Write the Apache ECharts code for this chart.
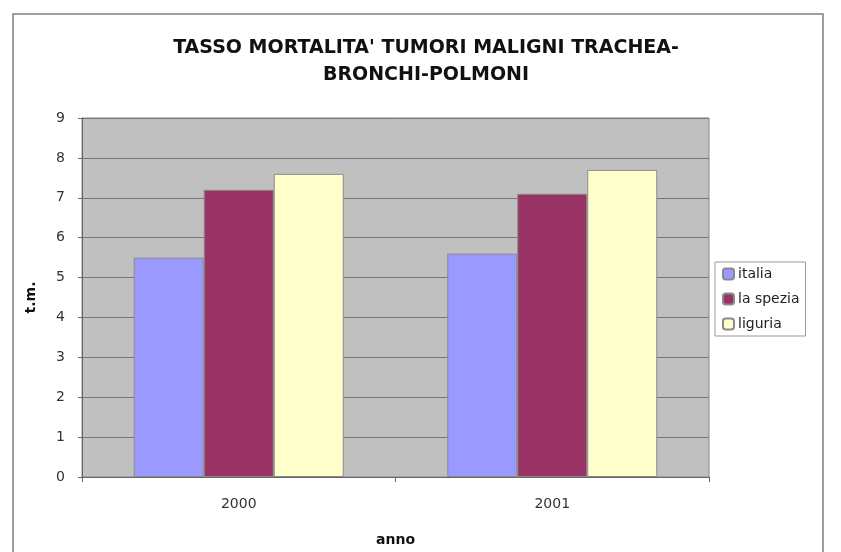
<!DOCTYPE html>
<html lang="it">
<head>
<meta charset="UTF-8">
<title>Tasso mortalità</title>
<style>
html, body { margin: 0; padding: 0; background: #fff; }
#main { width: 841px; height: 552px; }
</style>
</head>
<body>
<div id="main"></div>
<script src="https://cdn.jsdelivr.net/npm/echarts@6/dist/echarts.min.js"></script>
<script>
var anni = ['2000', '2001'];
var italia = [5.5, 5.6];
var laSpezia = [7.2, 7.1];
var liguria = [7.6, 7.7];
var yTicks = [0, 1, 2, 3, 4, 5, 6, 7, 8, 9];

var chart = echarts.init(document.getElementById('main'));

var barStyle = function (color) {
    return { color: color, borderColor: '#8a8a8a', borderWidth: 1 };
};

var option = {
    backgroundColor: '#fff',
    animation: false,
    textStyle: { fontFamily: 'DejaVu Sans, Arial, sans-serif' },
    title: {
        text: "TASSO MORTALITA' TUMORI MALIGNI TRACHEA-\nBRONCHI-POLMONI",
        left: 421,
        top: 30,
        textAlign: 'center',
        textStyle: { fontSize: 19, fontWeight: 'bold', color: '#111', lineHeight: 27 }
    },
    graphic: [
        {
            type: 'rect',
            shape: { x: 13, y: 14, width: 810, height: 560 },
            style: { fill: 'none', stroke: '#808080', lineWidth: 1.5 },
            z: -1
        }
    ],
    legend: {
        orient: 'vertical',
        left: 715,
        top: 262,
        itemWidth: 11,
        itemHeight: 11,
        itemGap: 11,
        padding: [5, 6, 5, 7],
        borderColor: '#999',
        borderWidth: 1,
        textStyle: { fontSize: 14, color: '#222', padding: [0, 0, 0, -1] },
        data: ['italia', 'la spezia', 'liguria']
    },
    grid: { left: 82, right: 132, top: 118, bottom: 74, backgroundColor: '#c0c0c0', show: true, borderColor: '#888', borderWidth: 1 },
    xAxis: {
        type: 'category',
        data: anni,
        name: 'anno',
        nameLocation: 'middle',
        nameGap: 56,
        nameTextStyle: { fontSize: 14, fontWeight: 'bold', color: '#111' },
        axisLine: { lineStyle: { color: '#666' } },
        axisTick: { show: true, lineStyle: { color: '#666' } },
        axisLabel: { fontSize: 14, color: '#333', margin: 20 }
    },
    yAxis: {
        type: 'value',
        min: yTicks[0],
        max: yTicks[yTicks.length - 1],
        interval: 1,
        name: 't.m.',
        nameLocation: 'middle',
        nameGap: 44,
        nameTextStyle: { fontSize: 14, fontWeight: 'bold', color: '#111' },
        axisLine: { show: true, lineStyle: { color: '#666' } },
        axisTick: { show: true, length: 4, lineStyle: { color: '#666' } },
        axisLabel: { fontSize: 14, color: '#333', margin: 17 },
        splitLine: { lineStyle: { color: '#777', width: 1 } }
    },
    series: [
        { name: 'italia', type: 'bar', data: italia, barGap: '0%', barCategoryGap: '33%', itemStyle: barStyle('#9999ff') },
        { name: 'la spezia', type: 'bar', data: laSpezia, itemStyle: barStyle('#993366') },
        { name: 'liguria', type: 'bar', data: liguria, itemStyle: barStyle('#ffffcc') }
    ]
};

chart.setOption(option);
</script>
</body>
</html>
